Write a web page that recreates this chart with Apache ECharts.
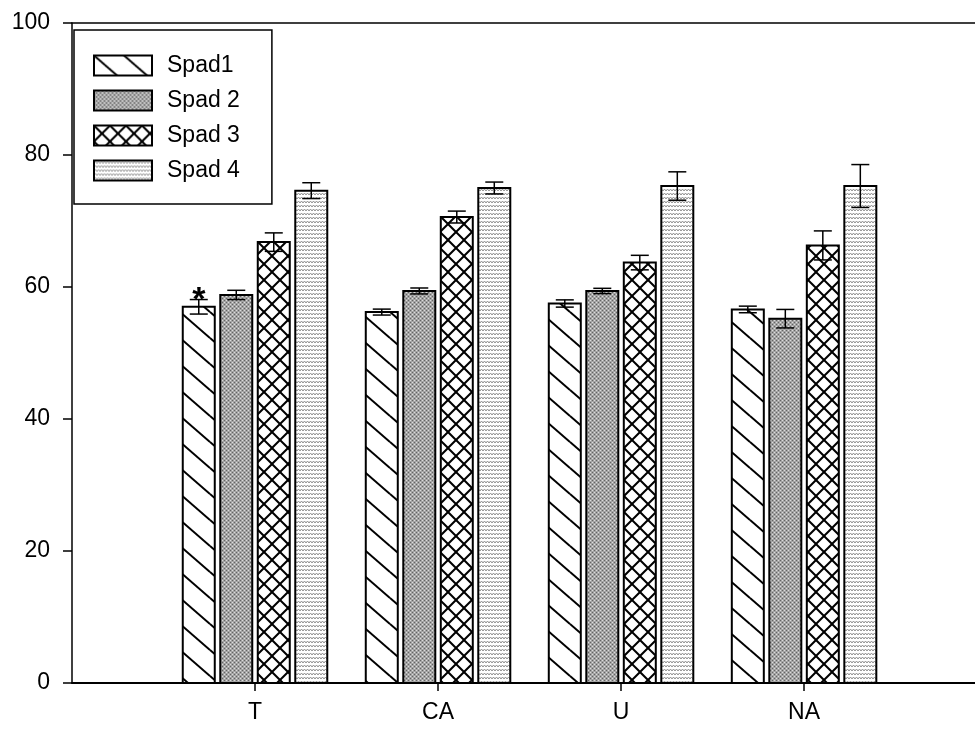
<!DOCTYPE html>
<html>
<head>
<meta charset="utf-8">
<script src="https://cdn.jsdelivr.net/npm/echarts@6/dist/echarts.min.js"></script>
<style>
  html, body { margin: 0; padding: 0; background: #fff; }
  #chart { width: 975px; height: 730px; }
</style>
</head>
<body>
<div id="chart"></div>
<script>
// data
const groups = ['T', 'CA', 'U', 'NA'];
const seriesNames = ['Spad1', 'Spad 2', 'Spad 3', 'Spad 4'];
const spad1 = [57.0, 56.2, 57.5, 56.6];
const spad1Err = [1.1, 0.45, 0.55, 0.5];
const spad2 = [58.8, 59.4, 59.4, 55.2];
const spad2Err = [0.7, 0.45, 0.4, 1.4];
const spad3 = [66.8, 70.6, 63.7, 66.3];
const spad3Err = [1.4, 0.9, 1.1, 2.2];
const spad4 = [74.6, 75.0, 75.3, 75.3];
const spad4Err = [1.2, 0.9, 2.15, 3.25];
const spad1Marks = ['*', '', '', ''];
const yTicks = [0, 20, 40, 60, 80, 100];

const FONT = '"Liberation Sans", Arial, sans-serif';
const STEP = 37.5 / 183;   // bar spacing inside a group, in axis units
const BAR_W = 32 / 183;    // bar width, in axis units
const CAP = 9;             // half width of error cap, px

function tile(w, h, draw) {
  const c = document.createElement('canvas');
  c.width = w; c.height = h;
  draw(c.getContext('2d'), w, h);
  return { image: c, repeat: 'repeat' };
}

// spad1: sparse back-slash lines
const patHatch = tile(30, 26, (ctx, w, h) => {
  ctx.fillStyle = '#fff'; ctx.fillRect(0, 0, w, h);
  ctx.strokeStyle = '#000'; ctx.lineWidth = 2;
  for (const dx of [-w, 0, w]) for (const dy of [-h, 0, h]) {
    ctx.beginPath(); ctx.moveTo(dx, dy); ctx.lineTo(dx + w, dy + h); ctx.stroke();
  }
});
// spad2: mid grey dither
const patGrey = tile(4, 4, (ctx, w, h) => {
  ctx.fillStyle = '#a4a4a4'; ctx.fillRect(0, 0, w, h);
  ctx.fillStyle = '#646464'; ctx.fillRect(0, 0, 1, 1); ctx.fillRect(2, 2, 1, 1);
  ctx.fillStyle = '#dcdcdc'; ctx.fillRect(2, 0, 1, 1); ctx.fillRect(0, 2, 1, 1);
});
// spad3: diamond cross hatch
const patCross = tile(16, 16, (ctx, w, h) => {
  ctx.fillStyle = '#fff'; ctx.fillRect(0, 0, w, h);
  ctx.strokeStyle = '#000'; ctx.lineWidth = 2;
  for (const dx of [-w, 0, w]) {
    ctx.beginPath(); ctx.moveTo(dx, 0); ctx.lineTo(dx + w, h); ctx.stroke();
    ctx.beginPath(); ctx.moveTo(dx + w, 0); ctx.lineTo(dx, h); ctx.stroke();
  }
});
// spad4: light zigzag
const patZig = tile(6, 4, (ctx, w, h) => {
  ctx.fillStyle = '#fff'; ctx.fillRect(0, 0, w, h);
  ctx.strokeStyle = '#909090'; ctx.lineWidth = 1;
  ctx.beginPath();
  ctx.moveTo(0, 3); ctx.lineTo(1.5, 1); ctx.lineTo(3, 3); ctx.lineTo(4.5, 1); ctx.lineTo(6, 3);
  ctx.stroke();
});

const patterns = [patHatch, patGrey, patCross, patZig];
const values = [spad1, spad2, spad3, spad4];
const errors = [spad1Err, spad2Err, spad3Err, spad4Err];
const marks = [spad1Marks, ['', '', '', ''], ['', '', '', ''], ['', '', '', '']];

function makeSeries(s) {
  return {
    name: seriesNames[s],
    type: 'custom',
    itemStyle: { color: patterns[s] },
    data: groups.map((g, i) => [i + 1, values[s][i], errors[s][i]]),
    renderItem: function (params, api) {
      const g = api.value(0), v = api.value(1), e = api.value(2);
      const mark = marks[s][params.dataIndex];
      const cx = g + (s - 1.5) * STEP;
      const p0 = api.coord([cx - BAR_W / 2, 0]);
      const p1 = api.coord([cx + BAR_W / 2, v]);
      const top = api.coord([cx, v + e]);
      const bot = api.coord([cx, v - e]);
      const x = top[0];
      const children = [
        {
          type: 'rect',
          shape: { x: p0[0], y: p1[1], width: p1[0] - p0[0], height: p0[1] - p1[1] },
          style: { fill: patterns[s], stroke: '#000', lineWidth: 2 }
        },
        { type: 'line', shape: { x1: x, y1: top[1], x2: x, y2: bot[1] }, style: { stroke: '#000', lineWidth: 1.5 } },
        { type: 'line', shape: { x1: x - CAP, y1: top[1], x2: x + CAP, y2: top[1] }, style: { stroke: '#000', lineWidth: 1.5 } },
        { type: 'line', shape: { x1: x - CAP, y1: bot[1], x2: x + CAP, y2: bot[1] }, style: { stroke: '#000', lineWidth: 1.5 } }
      ];
      if (mark) {
        children.push({
          type: 'text',
          style: {
            text: mark, x: x, y: top[1] + 1, align: 'center', verticalAlign: 'middle',
            font: 'bold 34px ' + FONT, fill: '#000'
          }
        });
      }
      return { type: 'group', children: children };
    }
  };
}

const chart = echarts.init(document.getElementById('chart'), null, { renderer: 'canvas' });
chart.setOption({
  backgroundColor: '#fff',
  animation: false,
  grid: { left: 72, right: 0, top: 23, bottom: 47 },
  legend: {
    left: 74, top: 30,
    orient: 'vertical',
    icon: 'rect',
    itemWidth: 58, itemHeight: 20, itemGap: 12,
    padding: [24, 32, 22, 19],
    borderColor: '#000', borderWidth: 1.5,
    textStyle: { fontFamily: FONT, fontSize: 23, color: '#000', padding: [0, 0, 0, 10] },
    data: seriesNames.map((n, s) => ({
      name: n,
      itemStyle: { color: patterns[s], borderColor: '#000', borderWidth: 2 }
    }))
  },
  xAxis: [{
    type: 'value', min: 0, max: 4.934,
    splitLine: { show: false },
    axisLine: { show: true, onZero: false, lineStyle: { color: '#000', width: 2 } },
    axisTick: { show: true, length: 8, customValues: [1, 2, 3, 4], lineStyle: { color: '#000', width: 1.5 } },
    axisLabel: {
      customValues: [1, 2, 3, 4], margin: 18,
      fontFamily: FONT, fontSize: 23, color: '#000',
      formatter: v => groups[Math.round(v) - 1] || ''
    }
  }, {
    type: 'value', min: 0, max: 4.934, position: 'top',
    splitLine: { show: false },
    axisLine: { show: true, onZero: false, lineStyle: { color: '#000', width: 1.5 } },
    axisTick: { show: false }, axisLabel: { show: false }
  }],
  yAxis: {
    type: 'value', min: yTicks[0], max: yTicks[yTicks.length - 1], interval: 20,
    splitLine: { show: false },
    axisLine: { show: true, lineStyle: { color: '#000', width: 1.5 } },
    axisTick: { show: true, length: 9, lineStyle: { color: '#000', width: 1.5 } },
    axisLabel: { margin: 22, fontFamily: FONT, fontSize: 23, color: '#000' }
  },
  series: [0, 1, 2, 3].map(makeSeries)
});
</script>
</body>
</html>
